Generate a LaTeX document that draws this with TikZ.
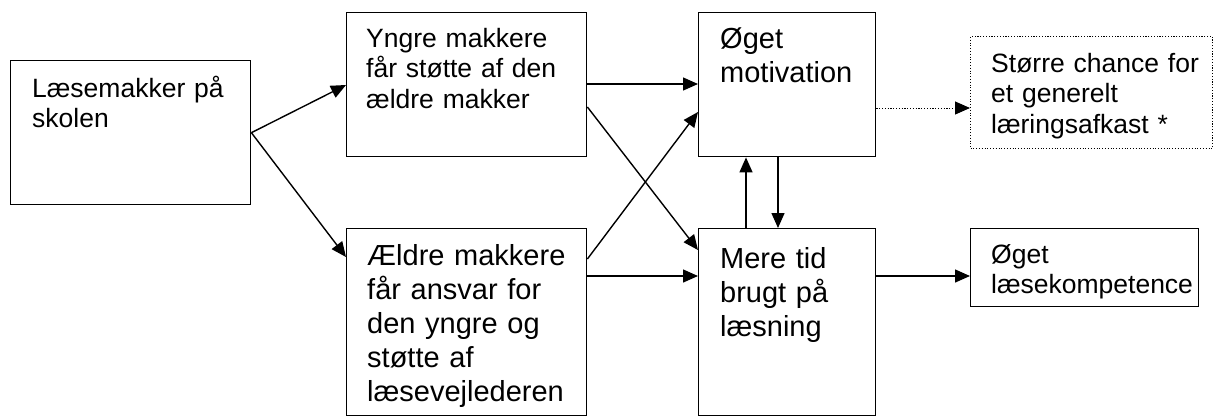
\documentclass[tikz,border=0pt]{standalone}
\usepackage{fontspec}
\setmainfont{Liberation Sans}
\usetikzlibrary{arrows.meta,calc}
\begin{document}
\begin{tikzpicture}[x=1pt,y=-1pt,
  box/.style={draw,line width=1.4pt,rectangle,inner sep=0pt,anchor=north west},
  dotbox/.style={draw,line width=1pt,dash pattern=on 1.1pt off 1.7pt,rectangle,inner sep=0pt,anchor=north west},
  txt/.style={anchor=base west,inner sep=0pt,align=left,text width=300pt},
  small/.style={font=\fontsize{26.5}{30.5}\selectfont},
  big/.style={font=\fontsize{29}{34}\selectfont},
  conn/.style={line width=1.4pt,-{Triangle[length=15pt,width=13pt]}},
  dotconn/.style={line width=1pt,dash pattern=on 1.1pt off 1.7pt,-{Triangle[length=15pt,width=13pt]}},
]
\useasboundingbox (0,0) rectangle (1216,416);

% boxes
\node[box,minimum width=240pt,minimum height=144pt] (A) at (10,60) {};
\node[box,minimum width=240pt,minimum height=144pt] (B) at (346,12) {};
\node[box,minimum width=240pt,minimum height=187pt] (C) at (346,228) {};
\node[box,minimum width=177pt,minimum height=144pt] (D) at (698,12) {};
\node[box,minimum width=177pt,minimum height=187pt] (E) at (698,228) {};
\node[box,minimum width=228pt,minimum height=78pt] (F) at (970,228) {};
\node[dotbox,minimum width=242pt,minimum height=112pt] (G) at (970,36) {};

% texts
\node[txt,small] (tA) at ($(A.north west)+(22,37)$) {Læsemakker på\\skolen};
\node[txt,small] (tB) at ($(B.north west)+(20,35)$) {Yngre makkere\\får støtte af den\\ældre makker};
\node[txt,big] (tC) at ($(C.north west)+(21,37)$) {Ældre makkere\\får ansvar for\\den yngre og\\støtte af\\læsevejlederen};
\node[txt,big] (tD) at ($(D.north west)+(22,36)$) {Øget\\motivation};
\node[txt,big] (tE) at ($(E.north west)+(22,40)$) {Mere tid\\brugt på\\læsning};
\node[txt,small] (tF) at ($(F.north west)+(21,35)$) {Øget\\læsekompetence};
\node[txt,small] (tG) at ($(G.north west)+(21,36)$) {Større chance for\\et generelt\\læringsafkast *};

% connectors
\draw[conn] (A.east) -- ($(B.north west)+(0,73)$);
\draw[conn] (A.east) -- ($(C.north west)+(0,29)$);
\draw[conn] ($(B.north east)+(0,72)$) -- ($(D.north west)+(0,72)$);
\draw[conn] ($(B.north east)+(0,95)$) -- ($(E.north west)+(0,22)$);
\draw[conn] ($(C.north east)+(0,31)$) -- ($(D.north west)+(0,100)$);
\draw[conn] ($(C.north east)+(0,48)$) -- ($(E.north west)+(0,48)$);
\draw[conn] ($(E.north west)+(48,0)$) -- ($(D.south west)+(48,0)$);
\draw[conn] ($(D.south west)+(80,0)$) -- ($(E.north west)+(80,0)$);
\draw[dotconn] ($(D.north east)+(0,96)$) -- ($(G.north west)+(0,72)$);
\draw[conn] ($(E.north east)+(0,48)$) -- ($(F.north west)+(0,48)$);
\end{tikzpicture}
\end{document}
